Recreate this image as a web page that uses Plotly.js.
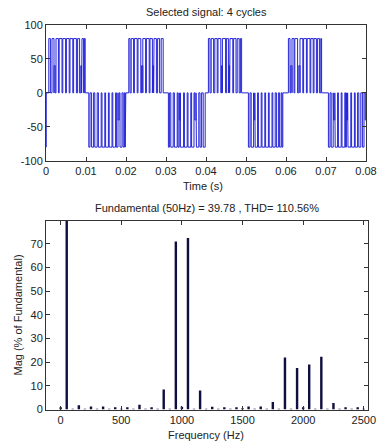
<!DOCTYPE html>
<html>
<head>
<meta charset="utf-8">
<script src="https://cdn.plot.ly/plotly-3.0.1.min.js"></script>
<style>
html,body{margin:0;padding:0;background:#fff;}
#chart{width:379px;height:444px;}
</style>
</head>
<body>
<div id="chart"></div>
<script>
// ---- Signal: pulses per half cycle [start ms, end ms, level] ----
var halfCycle0 = [[0,0,-80]];
var halfCycle1 = [[0.7,1.1,80],[1.5,2.0,80],[2.0,2.3,40],[2.5,3.1,80],[3.3,4.0,80],[4.2,4.9,80],[5.1,5.8,80],[6.0,6.7,80],[6.9,7.6,80],[7.9,8.4,80],[8.7,8.9,40],[9.0,9.4,80],[9.6,9.8,80]];
var halfCycle2 = [[10.7,11.0,-80],[11.4,11.9,-80],[12.2,12.8,-80],[13.1,13.8,-80],[14.0,14.7,-80],[14.9,15.6,-80],[15.8,16.5,-80],[16.7,17.4,-80],[17.6,18.0,-80],[18.0,18.3,-40],[18.5,19.0,-80],[19.3,19.6,-80],[19.8,19.95,-80]];
var halfCycle3 = [[20.7,21.0,80],[21.3,21.9,80],[22.1,22.8,80],[23.0,23.7,80],[23.9,24.2,40],[24.2,24.9,80],[25.1,25.8,80],[26.0,26.6,80],[26.7,26.9,40],[27.0,27.6,80],[27.9,28.4,80],[28.8,29.3,80]];
var halfCycle4 = [[30.6,30.9,-80],[31.2,31.8,-80],[32.1,32.8,-80],[33.0,33.3,-80],[33.3,33.6,-40],[33.6,34.4,-80],[34.6,35.3,-80],[35.5,36.2,-80],[36.4,37.0,-80],[37.2,37.5,-40],[37.6,38.2,-80],[38.5,38.9,-80],[39.3,39.8,-80]];
var halfCycle5 = [[40.6,41.0,80],[41.3,41.9,80],[42.2,42.8,80],[43.0,43.7,80],[43.9,44.1,40],[44.1,44.9,80],[45.1,45.6,80],[45.7,45.9,40],[46.0,46.7,80],[46.9,47.5,80],[47.8,48.3,80],[48.6,48.9,80]];
var halfCycle6 = [[50.6,51.0,-80],[51.3,51.9,-80],[52.0,52.2,-40],[52.3,52.9,-80],[53.1,53.8,-80],[54.0,54.7,-80],[54.9,55.6,-80],[55.8,56.5,-80],[56.7,57.3,-80],[57.6,58.1,-80],[58.4,58.8,-80],[59.0,59.2,-80]];
var halfCycle7 = [[60.6,61.0,80],[61.2,61.5,40],[61.5,62.0,80],[62.2,62.9,80],[63.2,63.5,40],[63.5,64.2,80],[64.4,65.1,80],[65.3,66.0,80],[66.2,66.8,80],[67.0,67.6,80],[67.9,68.4,80],[68.7,68.9,80]];
var halfCycle8 = [[70.6,71.0,-80],[71.3,71.8,-80],[71.9,72.2,-40],[72.3,72.9,-80],[73.1,73.8,-80],[74.0,74.7,-80],[74.9,75.1,-80],[75.1,75.4,-40],[75.5,76.2,-80],[76.4,77.1,-80],[77.3,77.9,-80],[78.2,78.7,-80],[79.1,79.5,-80],[79.8,80.0,-40]];

// ---- Spectrum ----
var freqHz = [0,50,100,150,200,250,300,350,400,450,500,550,600,650,700,750,800,850,900,950,1000,1050,1100,1150,1200,1250,1300,1350,1400,1450,1500,1550,1600,1650,1700,1750,1800,1850,1900,1950,2000,2050,2100,2150,2200,2250,2300,2350,2400,2450,2500];
var magPct = [1.0,100,0.3,1.8,0.3,1.3,0.3,1.3,0.3,1.0,0.3,1.0,0.3,2.0,0.3,1.0,0.3,8.5,0.3,71,1.2,72.5,0.3,8.0,0.3,1.2,0.3,1.0,0.3,1.0,0.5,1.3,0.3,1.3,0.3,3.2,0.3,22,0.3,17.5,1.0,19,0.3,22.3,0.3,2.8,0.3,1.0,0.3,1.0,0.3];

// ---- Tick labels ----
var topXTicks = [0,0.01,0.02,0.03,0.04,0.05,0.06,0.07,0.08];
var topXText = ['0','0.01','0.02','0.03','0.04','0.05','0.06','0.07','0.08'];
var topYTicks = [-100,-50,0,50,100];
var topYText = ['-100','-50','0','50','100'];
var botXTicks = [0,500,1000,1500,2000,2500];
var botXText = ['0','500','1000','1500','2000','2500'];
var botYTicks = [0,10,20,30,40,50,60,70];
var botYText = ['0','10','20','30','40','50','60','70'];

var allHalves = [halfCycle0,halfCycle1,halfCycle2,halfCycle3,halfCycle4,halfCycle5,halfCycle6,halfCycle7,halfCycle8];
var sigT = [], sigV = [];
allHalves.forEach(function(h){
  h.forEach(function(p){
    var s = p[0]/1000, e = p[1]/1000;
    sigT.push(s, s, e, e);
    sigV.push(0, p[2], p[2], 0);
  });
});
sigT.push(0.08); sigV.push(0);

var W = 379, H = 444;
function px(x){return x/W;}
function py(y){return 1 - y/H;}

var fnt = {family:'Liberation Sans, Arial, sans-serif', size:11, color:'#222'};
var axCommon = {
  showgrid:false, zeroline:false, showline:true, linecolor:'#333', linewidth:1,
  mirror:'ticks', ticks:'inside', ticklen:4, tickcolor:'#333', tickwidth:1,
  tickfont:fnt, tickmode:'array', fixedrange:true
};
function ax(extra){ var o = {}; for (var k in axCommon) o[k]=axCommon[k]; for (var k2 in extra) o[k2]=extra[k2]; return o; }

var data = [
  {x:sigT, y:sigV, type:'scatter', mode:'lines', line:{color:'#2424d8', width:1}, xaxis:'x', yaxis:'y', hoverinfo:'skip'},
  {x:freqHz, y:magPct, type:'bar', width:20, marker:{color:'#101040', line:{width:0}}, xaxis:'x2', yaxis:'y2', hoverinfo:'skip'}
];

var layout = {
  width:W, height:H, margin:{l:0,r:0,t:0,b:0},
  paper_bgcolor:'#fff', plot_bgcolor:'#fff', showlegend:false,
  xaxis: ax({domain:[px(46),px(366)], range:[0,0.08], tickvals:topXTicks, ticktext:topXText, anchor:'y'}),
  yaxis: ax({domain:[py(160.7),py(25)], range:[-100,100], tickvals:topYTicks, ticktext:topYText, anchor:'x'}),
  xaxis2: ax({domain:[px(46),px(368)], range:[-121,2535], tickvals:botXTicks, ticktext:botXText, anchor:'y2'}),
  yaxis2: ax({domain:[py(409.5),py(221)], range:[0,79.7], tickvals:botYTicks, ticktext:botYText, anchor:'x2'}),
  annotations:[
    {text:'Selected signal: 4 cycles', x:px(206), y:py(12), xref:'paper', yref:'paper', showarrow:false, font:fnt, xanchor:'center', yanchor:'middle'},
    {text:'Time (s)', x:px(203), y:py(186), xref:'paper', yref:'paper', showarrow:false, font:fnt, xanchor:'center', yanchor:'middle'},
    {text:'Fundamental (50Hz) = 39.78 , THD= 110.56%', x:px(207), y:py(207.5), xref:'paper', yref:'paper', showarrow:false, font:fnt, xanchor:'center', yanchor:'middle'},
    {text:'Frequency (Hz)', x:px(206), y:py(435), xref:'paper', yref:'paper', showarrow:false, font:fnt, xanchor:'center', yanchor:'middle'},
    {text:'Mag (% of Fundamental)', x:px(17.5), y:py(315), xref:'paper', yref:'paper', showarrow:false, font:fnt, xanchor:'center', yanchor:'middle', textangle:-90}
  ]
};

Plotly.newPlot('chart', data, layout, {staticPlot:true, displayModeBar:false});
</script>
</body>
</html>
